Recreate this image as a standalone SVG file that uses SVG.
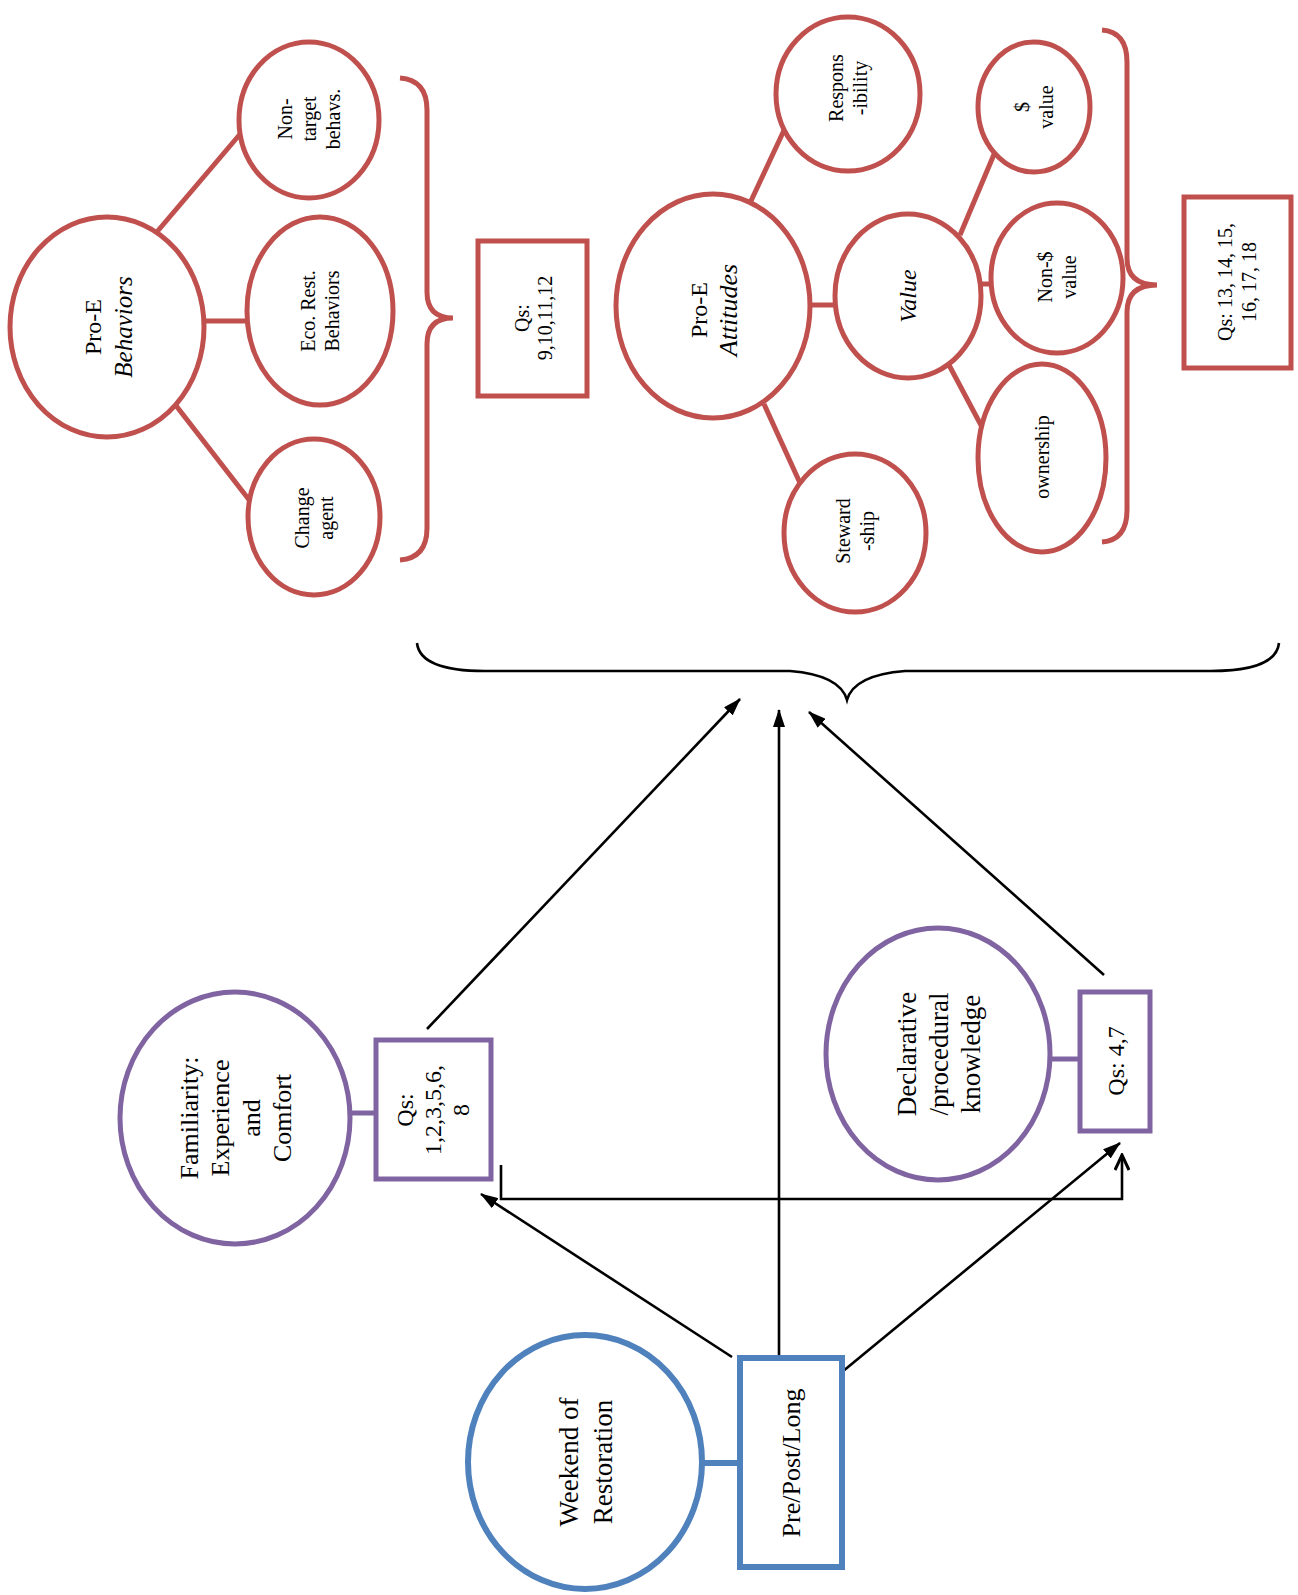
<svg xmlns="http://www.w3.org/2000/svg" width="1298" height="1595" viewBox="0 0 1298 1595">
<style>
.r{fill:#fff;stroke:#C0504D;stroke-width:5}
.rl{stroke:#C0504D;stroke-width:5;fill:none}
.p{fill:#fff;stroke:#8064A2;stroke-width:5}
.pl{stroke:#8064A2;stroke-width:5;fill:none}
.b{fill:#fff;stroke:#4F81BD;stroke-width:6}
.bl{stroke:#4F81BD;stroke-width:6;fill:none}
.k{stroke:#000;stroke-width:2.6;fill:none}
text{font-family:"Liberation Serif","Times New Roman",serif;fill:#000;text-anchor:middle}
.s20{font-size:20px}
.s24{font-size:24px}
.s25{font-size:25px}
.s26{font-size:26px}
.s27{font-size:27px}
.it{font-style:italic}
</style>
<defs>
<marker id="ah" markerUnits="userSpaceOnUse" markerWidth="18" markerHeight="12" refX="17" refY="6" orient="auto">
<path d="M0,0 L18,6 L0,12 z" fill="#000"/>
</marker>
<marker id="oh" markerUnits="userSpaceOnUse" markerWidth="18" markerHeight="16" refX="16" refY="8" orient="auto">
<path d="M1,1 L16,8 L1,15" fill="none" stroke="#000" stroke-width="3"/>
</marker>
</defs>

<g id="connectors">
<line class="rl" x1="156" y1="233" x2="241" y2="133"/>
<line class="rl" x1="203" y1="321" x2="248" y2="321"/>
<line class="rl" x1="174" y1="403" x2="250" y2="501"/>
<line class="rl" x1="750" y1="203" x2="786" y2="126"/>
<line class="rl" x1="809" y1="305" x2="836" y2="305"/>
<line class="rl" x1="764" y1="404" x2="800" y2="483"/>
<line class="rl" x1="960" y1="235" x2="995" y2="152"/>
<line class="rl" x1="979" y1="284" x2="992" y2="284"/>
<line class="rl" x1="949" y1="365" x2="983" y2="429"/>
<path class="rl" d="M400,78 Q427,80 427,110 L427,292 Q427,318 453,318 Q427,318 427,344 L427,528 Q427,558 400,560"/>
<path class="rl" d="M1102,30 Q1127,32 1127,62 L1127,258 Q1127,285 1157,285 Q1127,285 1127,312 L1127,510 Q1127,540 1102,542"/>
<path class="k" d="M417,643 Q420,671 485,671 L790,671 Q840,675 847,700 Q854,675 905,671 L1211,671 Q1276,671 1279,643"/>
<line class="pl" x1="349" y1="1113" x2="377" y2="1113"/>
<line class="pl" x1="1050" y1="1059" x2="1081" y2="1059"/>
<line class="bl" x1="703" y1="1463" x2="740" y2="1463"/>
<line class="k" x1="427" y1="1029" x2="740" y2="699" marker-end="url(#ah)"/>
<line class="k" x1="779" y1="1357" x2="779" y2="710" marker-end="url(#ah)"/>
<line class="k" x1="1104" y1="975" x2="809" y2="712" marker-end="url(#ah)"/>
<line class="k" x1="732" y1="1357" x2="481" y2="1194" marker-end="url(#ah)"/>
<line class="k" x1="842" y1="1372" x2="1120" y2="1143" marker-end="url(#ah)"/>
<path class="k" stroke-width="3" d="M501,1165 L501,1199 L1122,1199 L1122,1155" marker-end="url(#oh)"/>
</g>

<g id="proe-behaviors">
<ellipse class="r" cx="107" cy="327" rx="97" ry="110"/>
<g transform="translate(107,327) rotate(-90)">
<text class="s24" x="0" y="-6">Pro-E</text>
<text class="s25 it" x="0" y="25">Behaviors</text>
</g>
</g>
<g id="non-target">
<ellipse class="r" cx="309" cy="120" rx="70" ry="78"/>
<g transform="translate(309,119) rotate(-90)">
<text class="s20" x="0" y="-17">Non-</text>
<text class="s20" x="0" y="7">target</text>
<text class="s20" x="0" y="31">behavs.</text>
</g>
</g>
<g id="eco-rest">
<ellipse class="r" cx="320" cy="311" rx="73" ry="94"/>
<g transform="translate(320,311) rotate(-90)">
<text class="s20" x="0" y="-5">Eco. Rest.</text>
<text class="s20" x="0" y="19">Behaviors</text>
</g>
</g>
<g id="change-agent">
<ellipse class="r" cx="314" cy="517" rx="66" ry="78"/>
<g transform="translate(314,518) rotate(-90)">
<text class="s20" x="0" y="-5">Change</text>
<text class="s20" x="0" y="19">agent</text>
</g>
</g>
<g id="qs-behaviors">
<rect class="r" x="478" y="241" width="109" height="155"/>
<g transform="translate(532,318) rotate(-90)">
<text class="s20" x="0" y="-3">Qs:</text>
<text class="s20" x="0" y="20">9,10,11,12</text>
</g>
</g>

<g id="proe-attitudes">
<ellipse class="r" cx="713" cy="306" rx="97" ry="112"/>
<g transform="translate(713,310) rotate(-90)">
<text class="s24" x="0" y="-6">Pro-E</text>
<text class="s26 it" x="0" y="24">Attitudes</text>
</g>
</g>
<g id="responsibility">
<ellipse class="r" cx="848" cy="94" rx="72" ry="77"/>
<g transform="translate(848,88) rotate(-90)">
<text class="s20" x="0" y="-5">Respons</text>
<text class="s20" x="0" y="19">-ibility</text>
</g>
</g>
<g id="value">
<ellipse class="r" cx="908" cy="296" rx="73" ry="82"/>
<g transform="translate(908,296) rotate(-90)">
<text class="s24 it" x="0" y="8">Value</text>
</g>
</g>
<g id="dollar-value">
<ellipse class="r" cx="1034" cy="107" rx="56" ry="65"/>
<g transform="translate(1034,107) rotate(-90)">
<text class="s20" x="0" y="-5">$</text>
<text class="s20" x="0" y="19">value</text>
</g>
</g>
<g id="non-dollar-value">
<ellipse class="r" cx="1057" cy="278" rx="66" ry="75"/>
<g transform="translate(1057,277) rotate(-90)">
<text class="s20" x="0" y="-5">Non-$</text>
<text class="s20" x="0" y="19">value</text>
</g>
</g>
<g id="ownership">
<ellipse class="r" cx="1042" cy="458" rx="64" ry="94"/>
<g transform="translate(1042,457) rotate(-90)">
<text class="s20" x="0" y="7">ownership</text>
</g>
</g>
<g id="stewardship">
<ellipse class="r" cx="855" cy="533" rx="71" ry="79"/>
<g transform="translate(855,531) rotate(-90)">
<text class="s20" x="0" y="-5">Steward</text>
<text class="s20" x="0" y="19">-ship</text>
</g>
</g>
<g id="qs-attitudes">
<rect class="r" x="1184" y="197" width="107" height="171"/>
<g transform="translate(1237,282) rotate(-90)">
<text class="s20" x="0" y="-5">Qs: 13, 14, 15,</text>
<text class="s20" x="0" y="19">16, 17, 18</text>
</g>
</g>

<g id="familiarity">
<ellipse class="p" cx="235" cy="1118" rx="115" ry="126"/>
<g transform="translate(235,1118) rotate(-90)">
<text class="s26" x="0" y="-37">Familiarity:</text>
<text class="s26" x="0" y="-6">Experience</text>
<text class="s26" x="0" y="25">and</text>
<text class="s26" x="0" y="56">Comfort</text>
</g>
</g>
<g id="qs-familiarity">
<rect class="p" x="376" y="1040" width="115" height="139"/>
<g transform="translate(433,1110) rotate(-90)">
<text class="s24" x="0" y="-20">Qs:</text>
<text class="s24" x="0" y="8">1,2,3,5,6,</text>
<text class="s24" x="0" y="36">8</text>
</g>
</g>
<g id="declarative">
<ellipse class="p" cx="938" cy="1054" rx="112" ry="126"/>
<g transform="translate(938,1054) rotate(-90)">
<text class="s27" x="0" y="-22">Declarative</text>
<text class="s27" x="0" y="10">/procedural</text>
<text class="s27" x="0" y="42">knowledge</text>
</g>
</g>
<g id="qs-declarative">
<rect class="p" x="1080" y="992" width="70" height="139"/>
<g transform="translate(1115,1061) rotate(-90)">
<text class="s24" x="0" y="9">Qs: 4,7</text>
</g>
</g>

<g id="weekend">
<ellipse class="b" cx="585" cy="1462" rx="117" ry="127"/>
<g transform="translate(585,1462) rotate(-90)">
<text class="s27" x="0" y="-7">Weekend of</text>
<text class="s27" x="0" y="27">Restoration</text>
</g>
</g>
<g id="prepostlong">
<rect class="b" x="740" y="1358" width="102" height="209"/>
<g transform="translate(791,1463) rotate(-90)">
<text class="s26" x="0" y="9">Pre/Post/Long</text>
</g>
</g>
</svg>
